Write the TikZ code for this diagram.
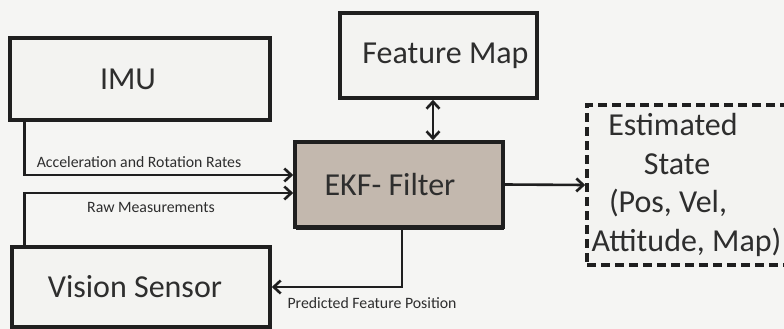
\documentclass[tikz,border=0pt]{standalone}
\usepackage{fontspec}
\setmainfont{Carlito}
\usetikzlibrary{arrows.meta,shadows}
\definecolor{bg}{HTML}{F5F5F3}
\definecolor{boxfill}{HTML}{F3F3F1}
\definecolor{ekffill}{HTML}{C3B8AE}
\definecolor{txt}{HTML}{2E2E2E}
\begin{document}
\begin{tikzpicture}[x=1pt,y=-1pt,
  >={Straight Barb[length=7pt,width=13pt,line width=2.6pt]},
  box/.style={draw=black!88, line width=3.6pt, fill=boxfill, text=txt,
    font=\fontsize{32}{38.5}\selectfont, inner sep=0pt, align=center},
  lab/.style={text=txt, font=\fontsize{15.8}{18}\selectfont, inner sep=0pt},
  conn/.style={line width=2.6pt, draw=black!88, ->},
  dconn/.style={line width=2.6pt, draw=black!88, <->}]
\fill[bg] (0,0) rectangle (784,329);
\useasboundingbox (0,0) rectangle (784,329);

\node[box, minimum width=260pt, minimum height=82pt] (imu) at (140,79) {\hspace*{-24pt}IMU};
\node[box, minimum width=258pt, minimum height=80pt] (vis) at (141,287) {\hspace*{-12pt}Vision Sensor};
\node[box, minimum width=197pt, minimum height=85pt] (fmap) at (438.5,55.5) {\hspace*{14pt}Feature Map};
\node[box, fill=ekffill, minimum width=208pt, minimum height=85pt,
  drop shadow={shadow xshift=0.5pt, shadow yshift=-3pt, fill=black!88, opacity=1}] (ekf) at (399,184.5) {\hspace*{-18pt}EKF- Filter};
\node[box, dash pattern=on 9pt off 5pt, minimum width=203pt, minimum height=160pt] (est) at (688.5,185)
  {\hspace*{-31pt}Estimated\\\hspace*{-23pt}State\\\hspace*{-41pt}(Pos, Vel,\\\hspace*{-4pt}Attitude, Map)};

\draw[conn] ([xshift=16pt]imu.south west) |- ([yshift=9.5pt]ekf.west);
\draw[conn] ([xshift=14pt]vis.north west) |- ([yshift=-8.5pt]ekf.west);
\draw[conn] ([xshift=3pt]ekf.south) |- (vis.east);
\draw[dconn] ([xshift=-5.5pt]fmap.south) -- ([xshift=-5.5pt]fmap.south |- ekf.north);
\draw[conn] (ekf.east) -- (est.west);

\node[lab] (lacc) at (139,162) {Acceleration and Rotation Rates};
\node[lab] (lraw) at (151,207) {Raw Measurements};
\node[lab] (lpred) at (372,303) {Predicted Feature Position};
\end{tikzpicture}
\end{document}
